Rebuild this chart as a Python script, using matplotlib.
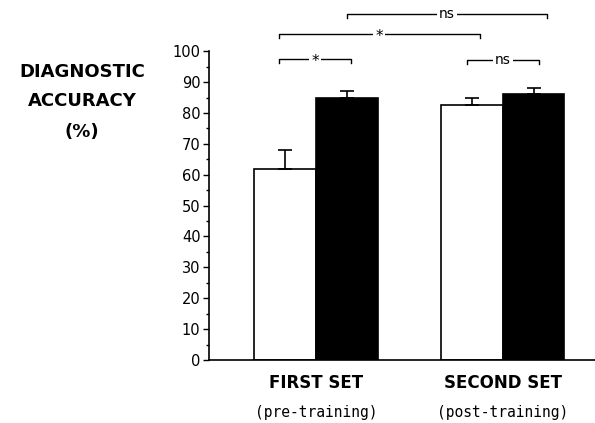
import numpy as np
import matplotlib.pyplot as plt
from matplotlib.ticker import MultipleLocator

# data
groups = ['FIRST SET', 'SECOND SET']
subtitles = ['(pre-training)', '(post-training)']
white_vals = [62, 82.5]
white_err = [6, 2.5]
black_vals = [85, 86]
black_err = [2, 2]

# significance brackets: (x left, x right, height, label)
brackets = [(-0.20, 0.19, 97.5, '*'),
            (-0.20, 0.88, 105.5, '*'),
            (0.165, 1.236, 112, 'ns'),
            (0.807, 1.194, 97, 'ns')]

fig = plt.figure(figsize=(5.95, 4.23), dpi=100)
ax = fig.add_axes([0.351, 0.149, 0.649, 0.730])

x = np.arange(len(groups))
w = 0.33

ax.bar(x - w/2, white_vals, w, color='white', edgecolor='black', linewidth=1.2)
ax.bar(x + w/2, black_vals, w, color='black', edgecolor='black', linewidth=1.2)
ax.errorbar(x - w/2, white_vals, yerr=[[0, 0], white_err], fmt='none',
            ecolor='black', elinewidth=1.2, capsize=5, capthick=1.2)
ax.errorbar(x + w/2, black_vals, yerr=[[0, 0], black_err], fmt='none',
            ecolor='black', elinewidth=1.2, capsize=5, capthick=1.2)

# brackets above the bars
for x0, x1, h, lab in brackets:
    ax.plot([x0, x0, x1, x1], [h - 1.3, h, h, h - 1.3], color='black',
            linewidth=1.0, clip_on=False)
    ax.text((x0 + x1) / 2, h - (0.8 if lab == '*' else 0), lab, ha='center', va='center',
            fontsize=11 if lab == '*' else 10,
            bbox=dict(facecolor='white', edgecolor='none', pad=1.5), clip_on=False)

ax.set_xlim(-0.573, 1.494)
ax.set_ylim(0, 100)
ax.yaxis.set_major_locator(MultipleLocator(10))
ax.yaxis.set_minor_locator(MultipleLocator(5))
ax.tick_params(axis='y', which='major', length=4, width=1, labelsize=10.5, pad=2)
ax.tick_params(axis='y', which='minor', length=2, width=1)
ax.set_xticks([])
ax.spines['top'].set_visible(False)
ax.spines['right'].set_visible(False)
ax.spines['left'].set_linewidth(1.2)
ax.spines['bottom'].set_linewidth(1.2)

# group labels below axis
for xi, g, s in zip(x, groups, subtitles):
    ax.text(xi, -7.5, g, ha='center', va='center', fontsize=12,
            fontweight='bold', transform=ax.transData)
    ax.text(xi, -17, s, ha='center', va='center', fontsize=10.5,
            family='DejaVu Sans Mono', transform=ax.transData)

# y axis title to the left
fig.text(0.138, 0.829, 'DIAGNOSTIC', ha='center', va='center',
         fontsize=13, fontweight='bold')
fig.text(0.138, 0.761, 'ACCURACY', ha='center', va='center',
         fontsize=13, fontweight='bold')
fig.text(0.138, 0.688, '(%)', ha='center', va='center',
         fontsize=13, fontweight='bold')

fig.savefig('out.png', dpi=100)
